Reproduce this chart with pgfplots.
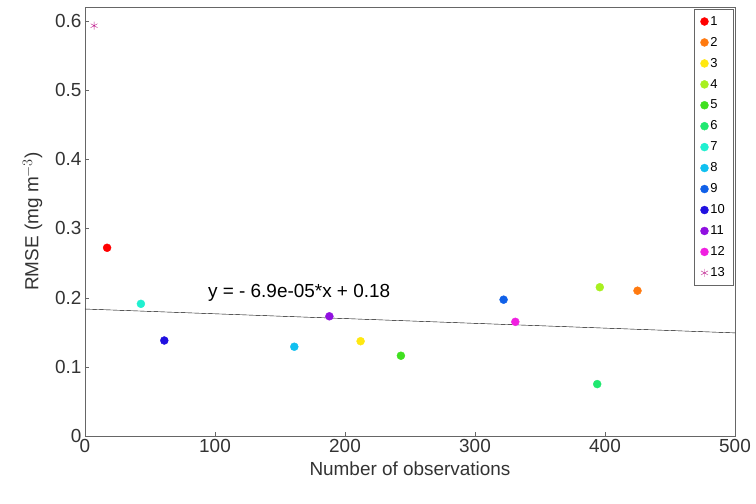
\documentclass[border=0pt]{standalone}
\usepackage{pgfplots}
\pgfplotsset{compat=1.18}
\usepackage{fontspec}
\setmainfont{Liberation Sans}
\definecolor{c1}{HTML}{FF0000}
\definecolor{c2}{HTML}{FF7A10}
\definecolor{c3}{HTML}{FFE810}
\definecolor{c4}{HTML}{A8F020}
\definecolor{c5}{HTML}{40E020}
\definecolor{c6}{HTML}{20E870}
\definecolor{c7}{HTML}{20F0D0}
\definecolor{c8}{HTML}{10C0F0}
\definecolor{c9}{HTML}{1060E8}
\definecolor{c10}{HTML}{2010E0}
\definecolor{c11}{HTML}{9010E0}
\definecolor{c12}{HTML}{F020E0}
\definecolor{c13}{HTML}{C0208F}
\begin{document}
\begin{tikzpicture}
\begin{axis}[scale only axis,width=650bp,height=429bp,
 xmin=0,xmax=500,ymin=0,ymax=0.62,
 xtick={0,100,...,500},ytick={0,0.1,...,0.6},
 yticklabel style={/pgf/number format/fixed,/pgf/number format/precision=1},
 /pgf/number format/assume math mode=true,
 tick label style={font=\fontsize{19}{21}\selectfont,text=black!80},
 label style={font=\fontsize{19}{21}\selectfont,text=black!80},
 xlabel={Number of observations},ylabel={RMSE (mg m$^{-3}$)},
 xlabel style={yshift=-2pt},ylabel style={yshift=6pt},
 axis line style={black!60},tick style={black!60},
 xtick pos=bottom,ytick pos=left,
 legend style={at={(0.997,0.995)},anchor=north east,font=\fontsize{13}{14}\selectfont,draw=black!60,cells={anchor=west},row sep=6.5pt,inner xsep=6pt,inner ysep=5pt},
 legend cell align=left,
 every axis plot/.append style={only marks,mark=*,mark size=4pt},
]
\addplot[c1] coordinates {(17,0.272)};
\addplot[c2] coordinates {(425,0.21)};
\addplot[c3] coordinates {(212,0.137)};
\addplot[c4] coordinates {(396,0.215)};
\addplot[c5] coordinates {(243,0.116)};
\addplot[c6] coordinates {(394,0.075)};
\addplot[c7] coordinates {(43,0.191)};
\addplot[c8] coordinates {(161,0.129)};
\addplot[c9] coordinates {(322,0.197)};
\addplot[c10] coordinates {(61,0.138)};
\addplot[c11] coordinates {(188,0.173)};
\addplot[c12] coordinates {(331,0.165)};
\addplot[c13,mark=asterisk,mark size=4pt] coordinates {(7,0.593)};
\legend{1,2,3,4,5,6,7,8,9,10,11,12,13}
\addplot[black,no marks,sharp plot,forget plot] coordinates {(0,0.1835) (500,0.149)};
\node[font=\fontsize{19}{21}\selectfont,anchor=south west] at (axis cs:92,0.19) {y = - 6.9e-05*x + 0.18};
\end{axis}
\pgfresetboundingbox
\path ([shift={(-85bp,-68bp)}]current axis.south west) rectangle ([shift={(21bp,7bp)}]current axis.north east);
\end{tikzpicture}
\end{document}
